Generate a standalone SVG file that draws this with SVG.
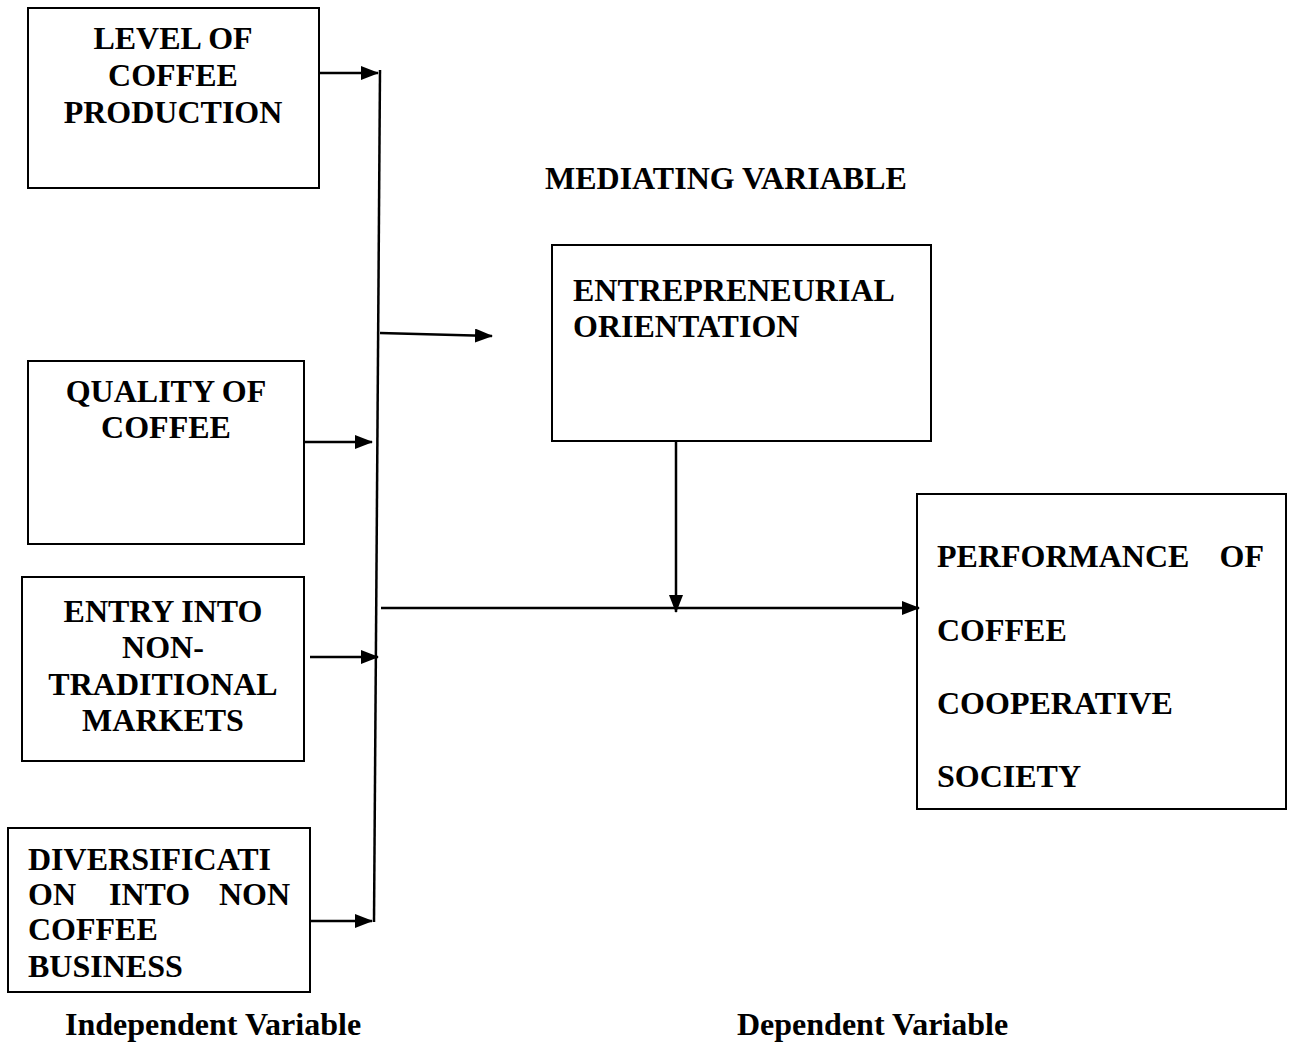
<svg xmlns="http://www.w3.org/2000/svg" width="1289" height="1044" viewBox="0 0 1289 1044">
<style>
.box{fill:#fff;stroke:#000;stroke-width:2}
.t{font-family:"Liberation Serif","Times New Roman",serif;font-weight:bold;font-size:32px;fill:#000}
.c{text-anchor:middle}
.ln{stroke:#000;stroke-width:2.5;fill:none}
</style>
<defs>
<marker id="ah" markerUnits="userSpaceOnUse" markerWidth="18" markerHeight="14" refX="17" refY="7" orient="auto">
<path d="M0,0 L18,7 L0,14 Z" fill="#000"/>
</marker>
</defs>
<rect width="1289" height="1044" fill="#fff"/>
<g id="n1">
<rect class="box" x="28" y="8" width="291" height="180"/>
<text class="t c" x="173" y="49">LEVEL OF</text>
<text class="t c" x="173" y="86">COFFEE</text>
<text class="t c" x="173" y="123">PRODUCTION</text>
</g>
<g id="n2">
<rect class="box" x="28" y="361" width="276" height="183"/>
<text class="t c" x="166" y="402">QUALITY OF</text>
<text class="t c" x="166" y="438">COFFEE</text>
</g>
<g id="n3">
<rect class="box" x="22" y="577" width="282" height="184"/>
<text class="t c" x="163" y="622">ENTRY INTO</text>
<text class="t c" x="163" y="658">NON-</text>
<text class="t c" x="163" y="695">TRADITIONAL</text>
<text class="t c" x="163" y="731">MARKETS</text>
</g>
<g id="n4">
<rect class="box" x="8" y="828" width="302" height="164"/>
<text class="t" x="28" y="870">DIVERSIFICATI</text>
<text class="t" y="905"><tspan x="28">ON</tspan><tspan x="109">INTO</tspan><tspan x="219">NON</tspan></text>
<text class="t" x="28" y="940">COFFEE</text>
<text class="t" x="28" y="977">BUSINESS</text>
</g>
<g id="n5">
<rect class="box" x="552" y="245" width="379" height="196"/>
<text class="t" x="573" y="301">ENTREPRENEURIAL</text>
<text class="t" x="573" y="337">ORIENTATION</text>
</g>
<g id="n6">
<rect class="box" x="917" y="494" width="369" height="315"/>
<text class="t" y="567"><tspan x="937">PERFORMANCE</tspan><tspan x="1264" text-anchor="end">OF</tspan></text>
<text class="t" x="937" y="641">COFFEE</text>
<text class="t" x="937" y="714">COOPERATIVE</text>
<text class="t" x="937" y="787">SOCIETY</text>
</g>
<g id="labels">
<text class="t" x="545" y="189">MEDIATING VARIABLE</text>
<text class="t" x="65" y="1035">Independent Variable</text>
<text class="t" x="737" y="1035">Dependent Variable</text>
</g>
<g id="connectors">
<line class="ln" x1="380" y1="70" x2="374" y2="922"/>
<line class="ln" x1="319" y1="73" x2="378" y2="73" marker-end="url(#ah)"/>
<line class="ln" x1="380" y1="333" x2="492" y2="336" marker-end="url(#ah)"/>
<line class="ln" x1="304" y1="442" x2="372" y2="442" marker-end="url(#ah)"/>
<line class="ln" x1="310" y1="657" x2="378" y2="657" marker-end="url(#ah)"/>
<line class="ln" x1="310" y1="921" x2="372" y2="921" marker-end="url(#ah)"/>
<line class="ln" x1="381" y1="608" x2="919" y2="608" marker-end="url(#ah)"/>
<line class="ln" x1="676" y1="441" x2="676" y2="612" marker-end="url(#ah)"/>
</g>
</svg>
